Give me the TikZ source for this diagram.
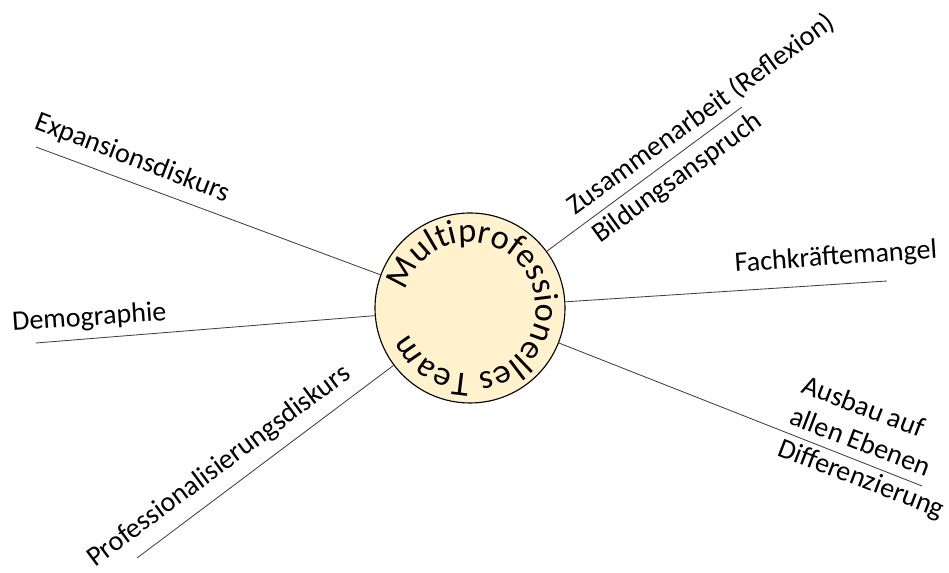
\documentclass[tikz,border=0pt]{standalone}
\usepackage{fontspec}
\setmainfont{Carlito}
\usetikzlibrary{decorations.text}
\definecolor{teamfill}{RGB}{255,242,204}

\begin{document}
\begin{tikzpicture}[
    topic/.style={anchor=base west, inner sep=0pt, font=\fontsize{20}{24}\selectfont},
    spoke/.style={draw=black!75, line width=0.6pt}]
  \useasboundingbox (0,0) rectangle (23.725,14.325);
  \node[circle, draw, line width=0.8pt, fill=teamfill, minimum size=4.75cm, inner sep=0pt] (team) at (11.75,6.625) {};
  \path[decorate, decoration={text along path, text align=left,
      text={|\fontsize{24.5}{29}\selectfont|Multiprofessionelles Team}}]
    ([shift={(165:1.65)}]team.center) arc[start angle=165, end angle=-190, radius=1.65];
  \coordinate (expansion) at (0.9,10.65);
  \coordinate (demo) at (0.9,5.75);
  \coordinate (prof) at (3.425,0.375);
  \coordinate (zusammen) at (18.55,11.65);
  \coordinate (fach) at (22.175,7.3);
  \coordinate (ausbau) at (23.05,2.175);
  \draw[spoke] (expansion) -- (team);
  \draw[spoke] (demo) -- (team);
  \draw[spoke] (prof) -- (team);
  \draw[spoke] (zusammen) -- (team);
  \draw[spoke] (fach) -- (team);
  \draw[spoke] (ausbau) -- (team);
  \node[topic, rotate=-21] (expansionL) at (0.825,11.125) {Expansionsdiskurs};
  \node[topic, rotate=4] (demoL) at (0.3125,6.05) {Demographie};
  \node[topic, rotate=36.6] (profL) at (2.375,0.125) {Professionalisierungsdiskurs};
  \node[topic, rotate=36] (zusammenL) at (14.375,8.925) {Zusammenarbeit (Reflexion)};
  \node[topic, rotate=36] (bildungL) at (15.0,8.225) {Bildungsanspruch};
  \node[topic, rotate=4] (fachL) at (18.375,7.525) {Fachkräftemangel};
  \node[topic, rotate=-21, align=left] (ausbauL) at (19.4,2.95) {Ausbau auf\\allen Ebenen\\Differenzierung};
\end{tikzpicture}
\end{document}
